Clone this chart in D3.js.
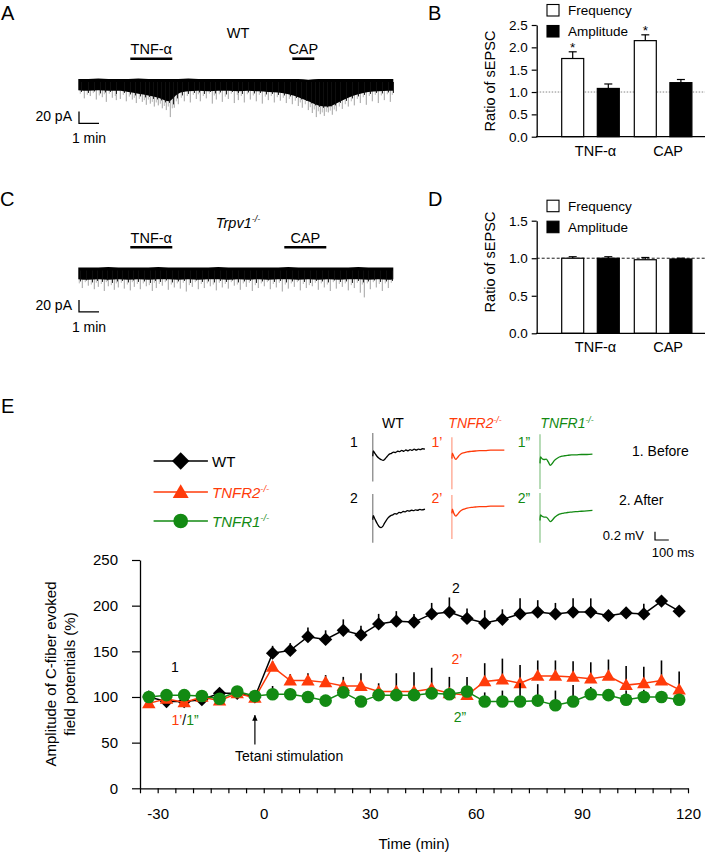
<!DOCTYPE html>
<html><head><meta charset="utf-8">
<script src="https://cdn.jsdelivr.net/npm/d3@7"></script>
<style>
body{margin:0;background:#fff}
svg{display:block}
text{font-family:"Liberation Sans",Arial,sans-serif;fill:#000}
</style>
</head><body>
<svg id="c" width="705" height="853"></svg>
<script>
// ================= DATA =================
// Panels B / D : sEPSC ratios
const barCategories = ["TNF-α", "CAP"];
const barSeries = ["Frequency", "Amplitude"];
const wtFrequency = [1.75, 2.15];
const wtFrequencyErr = [0.15, 0.13];
const wtAmplitude = [1.08, 1.21];
const wtAmplitudeErr = [0.10, 0.07];
const trpvFrequency = [1.00, 0.98];
const trpvFrequencyErr = [0.02, 0.03];
const trpvAmplitude = [1.00, 0.99];
const trpvAmplitudeErr = [0.02, 0.01];
const bTicks = [0, 0.5, 1.0, 1.5, 2.0, 2.5];
const dTicks = [0, 0.5, 1.0, 1.5];

// Panels A / C : current traces (time in min, current in pA), envelope + events
const traceTimes = [0,0.5,1,1.5,2,2.5,3,3.5,4,4.5,5,5.5,6,6.5,7,7.5,8,8.5,9,9.5,10,10.5,11,11.5,12,12.5,13,13.5,14,14.5,15,15.5,15.75];
const wtTraceTop = [5,5,6,5,5,5,6,5,5,5,5,6,5,5,5,5,5,5,5,5,5,5,5,4,5,5,5,5,5,5,5,5,5];
const wtTraceBottom = [-14,-15,-14,-15,-15,-17,-20,-23,-27,-33,-20,-16,-15,-16,-15,-15,-16,-15,-16,-17,-18,-21,-26,-33,-40,-42,-35,-27,-21,-17,-16,-15,-15];
const wtEvents = [[0.3,-28],[0.6,-24],[0.9,-30],[1.2,-26],[1.4,-34],[1.7,-27],[1.9,-31],[2.1,-29],[2.4,-33],[2.7,-30],[2.9,-36],[3.2,-34],[3.4,-39],[3.6,-37],[3.8,-42],[4.0,-40],[4.2,-45],[4.4,-48],[4.6,-60],[4.8,-44],[5.0,-38],[5.3,-33],[5.6,-35],[5.9,-29],[6.1,-33],[6.4,-28],[6.7,-37],[6.9,-30],[7.2,-34],[7.5,-29],[7.8,-36],[8.0,-31],[8.3,-35],[8.6,-30],[8.9,-33],[9.2,-37],[9.5,-31],[9.8,-35],[10.1,-32],[10.4,-36],[10.7,-38],[11.0,-41],[11.2,-44],[11.5,-48],[11.7,-53],[11.9,-60],[12.1,-55],[12.3,-58],[12.5,-52],[12.7,-56],[12.9,-50],[13.2,-46],[13.5,-42],[13.8,-40],[14.1,-36],[14.4,-39],[14.7,-33],[15.0,-36],[15.3,-31],[15.6,-34]];
const wtSmallEvents = [[0.1,-20],[0.45,-22],[0.75,-19],[1.05,-23],[1.3,-21],[1.55,-20],[1.85,-24],[2.25,-22],[2.55,-25],[2.8,-27],[3.05,-29],[3.3,-31],[3.5,-30],[3.7,-34],[3.9,-35],[4.1,-37],[4.3,-41],[4.5,-42],[4.7,-45],[4.9,-33],[5.15,-27],[5.45,-24],[5.75,-22],[6.0,-21],[6.25,-24],[6.55,-20],[6.8,-23],[7.05,-21],[7.35,-25],[7.65,-20],[7.95,-22],[8.15,-24],[8.45,-21],[8.75,-23],[9.05,-22],[9.35,-25],[9.65,-24],[9.95,-26],[10.25,-27],[10.55,-29],[10.85,-32],[11.1,-35],[11.35,-38],[11.6,-43],[11.8,-47],[12.0,-50],[12.2,-52],[12.4,-51],[12.6,-49],[12.8,-47],[13.05,-42],[13.35,-38],[13.65,-33],[13.95,-29],[14.25,-26],[14.55,-24],[14.85,-22],[15.15,-23],[15.45,-21],[15.7,-22]];
const koTraceTop = [5,5,5,6,5,5,5,5,6,5,5,5,5,5,6,5,5,5,5,5,5,6,5,5,5,5,5,5,6,5,5,5,5];
const koTraceBottom = [-15,-16,-15,-16,-15,-16,-15,-16,-15,-15,-16,-15,-16,-15,-15,-16,-15,-16,-15,-16,-15,-15,-16,-15,-16,-15,-16,-15,-15,-16,-15,-16,-15];
const koEvents = [[0.2,-30],[0.5,-26],[0.8,-32],[1.0,-28],[1.3,-35],[1.5,-27],[1.8,-33],[2.0,-29],[2.3,-31],[2.6,-34],[2.8,-28],[3.1,-32],[3.4,-27],[3.7,-35],[3.9,-30],[4.2,-26],[4.5,-33],[4.8,-29],[5.1,-31],[5.4,-36],[5.7,-28],[6.0,-32],[6.3,-30],[6.6,-27],[6.9,-34],[7.2,-29],[7.5,-31],[7.8,-26],[8.1,-33],[8.4,-28],[8.7,-35],[9.0,-30],[9.3,-27],[9.6,-32],[9.9,-29],[10.2,-36],[10.5,-31],[10.8,-28],[11.1,-34],[11.4,-30],[11.7,-27],[12.0,-33],[12.3,-29],[12.6,-35],[12.9,-31],[13.2,-28],[13.5,-34],[13.8,-30],[14.1,-38],[14.3,-46],[14.6,-32],[14.9,-29],[15.2,-35],[15.5,-30]];
const koSmallEvents = [[0.05,-22],[0.35,-20],[0.65,-24],[0.9,-21],[1.15,-23],[1.4,-20],[1.65,-25],[1.9,-22],[2.15,-21],[2.45,-24],[2.7,-20],[2.95,-23],[3.25,-22],[3.55,-25],[3.8,-21],[4.05,-23],[4.35,-20],[4.65,-24],[4.95,-22],[5.25,-21],[5.55,-25],[5.85,-20],[6.15,-23],[6.45,-22],[6.75,-24],[7.05,-21],[7.35,-23],[7.65,-20],[7.95,-24],[8.25,-22],[8.55,-21],[8.85,-25],[9.15,-22],[9.45,-20],[9.75,-23],[10.05,-21],[10.35,-24],[10.65,-22],[10.95,-20],[11.25,-23],[11.55,-25],[11.85,-21],[12.15,-22],[12.45,-24],[12.75,-20],[13.05,-23],[13.35,-22],[13.65,-25],[13.95,-21],[14.2,-24],[14.45,-22],[14.75,-20],[15.05,-23],[15.35,-22],[15.65,-21]];
// drug application bars (min)
const wtDrugTNF = [2.6, 4.7];
const wtDrugCAP = [10.7, 11.8];
const koDrugTNF = [2.6, 4.7];
const koDrugCAP = [10.3, 12.4];

// Panel E : C-fiber evoked field potentials (%)
const timeMin = [-32.5,-27.5,-22.5,-17.5,-12.5,-7.5,-2.5,2.5,7.5,12.5,17.5,22.5,27.5,32.5,37.5,42.5,47.5,52.5,57.5,62.5,67.5,72.5,77.5,82.5,87.5,92.5,97.5,102.5,107.5,112.5,117.5];
const wtValues = [100,95,95,97,104,104,100,148,151,166,163,173,168,180,183,182,191,193,186,181,185,191,193,191,193,193,189,192,191,205,194];
const wtErr = [2,2,2,2,2,2,2,8,8,10,10,12,10,11,11,9,12,16,11,14,11,17,13,12,15,15,4,4,11,3,3];
const tnfr2Values = [93,98,94,100,96,104,99,133,118,118,116,112,112,106,106,106,109,104,102,117,119,115,123,123,122,120,123,113,115,118,108];
const tnfr2Err = [2,2,2,2,2,2,2,6,7,8,8,10,14,9,20,21,23,18,20,20,23,20,17,17,17,18,18,21,18,22,20];
const tnfr1Values = [100,102,102,101,98,106,101,103,103,100,96,105,95,102,102,102,104,103,106,95,95,95,96,91,95,103,102,97,100,100,97];
const tnfr1Err = [2,2,2,2,2,2,2,9,6,4,3,4,3,3,3,3,3,3,3,10,12,20,18,16,18,8,6,10,8,6,6];
const eYTicks = [0, 50, 100, 150, 200, 250];
const eXTicks = [-35,-30,-25,-20,-15,-10,-5,0,5,10,15,20,25,30,35,40,45,50,55,60,65,70,75,80,85,90,95,100,105,110,115,120];
const eXLabels = [-30, 0, 30, 60, 90, 120];

// Panel E insets: example field potentials (ms, mV); artifact [top, bottom]
const wt1Trace = [[3,-0.02],[15,-0.08],[30,-0.15],[45,-0.2],[60,-0.23],[75,-0.25],[90,-0.21],[105,-0.15],[120,-0.1],[135,-0.08],[150,-0.05],[165,-0.06],[180,-0.03],[195,-0.04],[210,-0.01],[225,-0.03],[240,0],[255,-0.02],[270,0.01],[285,-0.01],[300,0.02],[315,0],[330,0.02],[345,0.01],[360,0.03],[378,0.02]];
const wt1Artifact = [0.41, -0.76];
const wt2Trace = [[3,-0.04],[15,-0.12],[30,-0.22],[45,-0.3],[60,-0.33],[72,-0.3],[85,-0.22],[100,-0.14],[115,-0.08],[130,-0.04],[145,-0.02],[160,0.01],[175,0],[190,0.04],[205,0.03],[220,0.06],[235,0.05],[250,0.08],[265,0.07],[280,0.09],[295,0.08],[310,0.1],[325,0.09],[340,0.11],[355,0.1],[378,0.12]];
const wt2Artifact = [0.48, -0.69];
const r1Trace = [[3,-0.05],[15,-0.14],[28,-0.2],[40,-0.16],[55,-0.1],[70,-0.06],[90,-0.04],[110,-0.02],[140,-0.01],[170,0],[200,0.01],[240,0.01],[280,0.02],[320,0.02],[380,0.02]];
const r1Artifact = [0.33, -0.92];
const r2Trace = [[3,-0.05],[15,-0.16],[28,-0.22],[40,-0.18],[55,-0.12],[70,-0.08],[90,-0.05],[110,-0.03],[140,-0.01],[170,0],[200,0.01],[240,0.01],[280,0.02],[320,0.02],[380,0.02]];
const r2Artifact = [0.29, -0.77];
const g1Trace = [[3,0],[15,-0.04],[30,-0.06],[45,-0.05],[60,-0.12],[75,-0.2],[90,-0.15],[105,-0.08],[120,-0.04],[140,0],[160,0.02],[180,0.03],[200,0.04],[230,0.05],[260,0.05],[300,0.06],[340,0.06],[380,0.07]];
const g1Artifact = [0.55, -0.77];
const g2Trace = [[3,0],[15,-0.03],[30,-0.05],[45,-0.05],[60,-0.1],[75,-0.16],[90,-0.12],[105,-0.06],[120,-0.02],[140,0.02],[160,0.04],[180,0.05],[200,0.06],[230,0.07],[260,0.08],[300,0.09],[340,0.1],[380,0.11]];
const g2Artifact = [0.53, -0.67];

// ================= DRAW =================
const svg = d3.select("#c");
const RED = "#ff3b0a", GREEN = "#138a13";
// diamond = square turned by 45 degrees
const diamondSymbol = { draw(ctx, size) { const r = Math.sqrt(size / 2); ctx.moveTo(0, -r); ctx.lineTo(r, 0); ctx.lineTo(0, r); ctx.lineTo(-r, 0); ctx.closePath(); } };

function label(x, y, txt, opts = {}) {
  const t = svg.append("text").attr("x", x).attr("y", y)
    .attr("font-size", opts.size || 14)
    .attr("text-anchor", opts.anchor || "start")
    .style("fill", opts.color || "#000");
  if (opts.italic) t.attr("font-style", "italic");
  if (opts.sup) {
    t.append("tspan").text(txt);
    t.append("tspan").text(opts.sup).attr("font-size", (opts.size || 14) * 0.62).attr("dy", -(opts.size || 14) * 0.38);
  } else t.text(txt);
  return t;
}

// ---------- Panels A / C ----------
function tracePanel(y0, top, bottom, events, smallEvents, tnf, cap, titleText, titleItalic, supText, titleY) {
  const x = d3.scaleLinear().domain([0, 15.75]).range([78.3, 393.3]);
  const y = d3.scaleLinear().domain([0, 20]).range([y0, y0 - 11.7]);
  const g = svg.append("g");
  g.selectAll("line.ev").data(events).join("line")
    .attr("x1", d => x(d[0])).attr("x2", d => x(d[0]))
    .attr("y1", y(0)).attr("y2", d => y(d[1]))
    .attr("stroke", "#8a8a8a").attr("stroke-width", 0.8);
  g.selectAll("line.ev3").data(smallEvents).join("line")
    .attr("x1", d => x(d[0])).attr("x2", d => x(d[0]))
    .attr("y1", y(0)).attr("y2", d => y(d[1]))
    .attr("stroke", "#9a9a9a").attr("stroke-width", 0.7);
  const area = d3.area().x((d, i) => x(traceTimes[i])).y0((d, i) => y(bottom[i])).y1((d, i) => y(top[i])).curve(d3.curveMonotoneX);
  g.append("path").datum(top).attr("d", area).attr("fill", "#000");
  g.selectAll("line.ev2").data(smallEvents).join("line")
    .attr("x1", d => x(d[0]) + 1.2).attr("x2", d => x(d[0]) + 1.2)
    .attr("y1", y(0)).attr("y2", d => y(d[1] * 0.85))
    .attr("stroke", "#111").attr("stroke-width", 0.9);
  [[tnf, "TNF-α"], [cap, "CAP"]].forEach(([r, txt]) => {
    g.append("line").attr("x1", x(r[0])).attr("x2", x(r[1]))
      .attr("y1", y0 - 11.3 - 12).attr("y2", y0 - 11.3 - 12)
      .attr("stroke", "#000").attr("stroke-width", 2.6);
    label((x(r[0]) + x(r[1])) / 2, y0 - 11.3 - 16.5, txt, {anchor: "middle", size: 14.5});
  });
  label(238, titleY, titleText, {anchor: "middle", size: 14.5, italic: titleItalic, sup: supText});
  const sbY = y0 + 41.3;
  g.append("path").attr("d", `M${x(0) + 0.7},${sbY - (y(0) - y(20))} V${sbY} H${x(1) + 0.7}`)
    .attr("fill", "none").attr("stroke", "#000").attr("stroke-width", 1.3);
  label(72, sbY - 2, "20 pA", {anchor: "end", size: 14});
  label(89, sbY + 20, "1 min", {anchor: "middle", size: 14});
}
tracePanel(82, wtTraceTop, wtTraceBottom, wtEvents, wtSmallEvents, wtDrugTNF, wtDrugCAP, "WT", false, null, 38);
tracePanel(270.5, koTraceTop, koTraceBottom, koEvents, koSmallEvents, koDrugTNF, koDrugCAP, "Trpv1", true, "-/-", 227.5);

label(1, 19.5, "A", {size: 20});
label(0, 206, "C", {size: 20});
label(428, 19.5, "B", {size: 20});
label(428, 206, "D", {size: 20});
label(1, 413, "E", {size: 20});

// ---------- Panels B / D ----------
function barPanel(yTop, yBottom, dom, ticks, freq, freqErr, amp, ampErr, dashed, stars, titleY) {
  const y = d3.scaleLinear().domain(dom).range([yBottom, yTop]);
  const x0 = d3.scaleBand().domain(barCategories).range([561.7, 691.9]).paddingInner(0.2066);
  const x1 = d3.scaleBand().domain(barSeries).range([0, x0.bandwidth()]).paddingInner(0.382);
  const g = svg.append("g");
  g.append("line").attr("x1", 536.7).attr("x2", 705).attr("y1", y(1)).attr("y2", y(1))
    .attr("stroke", dashed ? "#000" : "#777").attr("stroke-width", 0.9)
    .attr("stroke-dasharray", dashed ? "3,2" : "1.5,1.5");
  const rows = [];
  barCategories.forEach((c, i) => {
    rows.push({c, s: "Frequency", v: freq[i], e: freqErr[i], star: stars});
    rows.push({c, s: "Amplitude", v: amp[i], e: ampErr[i], star: false});
  });
  rows.forEach(r => {
    const bx = x0(r.c) + x1(r.s), bw = x1.bandwidth(), cx = bx + bw / 2;
    g.append("line").attr("x1", cx).attr("x2", cx).attr("y1", y(r.v)).attr("y2", y(r.v + r.e)).attr("stroke", "#000").attr("stroke-width", 1.2);
    g.append("line").attr("x1", cx - 4).attr("x2", cx + 4).attr("y1", y(r.v + r.e)).attr("y2", y(r.v + r.e)).attr("stroke", "#000").attr("stroke-width", 1.2);
    g.append("rect").attr("x", bx).attr("y", y(r.v)).attr("width", bw).attr("height", y(0) - y(r.v))
      .attr("fill", r.s === "Frequency" ? "#fff" : "#000").attr("stroke", "#000").attr("stroke-width", 1.2);
    if (r.star) label(cx, y(r.v + r.e) + 0.5, "*", {anchor: "middle", size: 13.5});
  });
  const ax = g.append("g").attr("transform", "translate(536.7,0)")
    .call(d3.axisLeft(y).tickValues(ticks).tickFormat(d3.format(".1f")).tickSize(5).tickPadding(4).tickSizeOuter(0));
  ax.select(".domain").attr("stroke-width", 1.3);
  ax.selectAll(".tick line").attr("stroke-width", 1.2);
  ax.selectAll("text").attr("font-size", 13.5).attr("font-family", "Liberation Sans, Arial, sans-serif");
  g.append("line").attr("x1", 536).attr("x2", 705).attr("y1", y(0)).attr("y2", y(0)).attr("stroke", "#000").attr("stroke-width", 1.3);
  barCategories.forEach((c, i) => label(x0(c) + x0.bandwidth() / 2 + 5, y(0) + 19, c, {anchor: "middle", size: 14.5}));
  svg.append("text").attr("transform", `translate(495,${titleY}) rotate(-90)`)
    .attr("text-anchor", "middle").attr("font-size", 14.5).text("Ratio of sEPSC");
  barSeries.forEach((s, i) => {
    const ly = yTop - 20.5 + i * 21;
    svg.append("rect").attr("x", 547).attr("y", ly).attr("width", 12).attr("height", 11.5)
      .attr("fill", s === "Frequency" ? "#fff" : "#000").attr("stroke", "#000").attr("stroke-width", 1.1);
    label(568, ly + 10.5, s, {size: 13.5});
  });
}
barPanel(25, 136.7, [0, 2.5], bTicks, wtFrequency, wtFrequencyErr, wtAmplitude, wtAmplitudeErr, false, true, 81);
barPanel(220.7, 333.3, [0, 1.5], dTicks, trpvFrequency, trpvFrequencyErr, trpvAmplitude, trpvAmplitudeErr, true, false, 262);

// ---------- Panel E main plot ----------
const ex = d3.scaleLinear().domain([-35, 120]).range([140, 688]);
const ey = d3.scaleLinear().domain([0, 250]).range([788.3, 560]);
const eg = svg.append("g");
const yAx = eg.append("g").attr("transform", "translate(140,0)")
  .call(d3.axisLeft(ey).tickValues(eYTicks).tickSize(8).tickPadding(14).tickSizeOuter(0));
const xAx = eg.append("g").attr("transform", "translate(0,788.3)")
  .call(d3.axisBottom(ex).tickValues(eXTicks).tickFormat(d => eXLabels.includes(d) ? d : "").tickSize(5).tickPadding(15).tickSizeOuter(0));
[yAx, xAx].forEach(a => {
  a.select(".domain").attr("stroke-width", 1.3);
  a.selectAll(".tick line").attr("stroke-width", 1.2);
  a.selectAll("text").attr("font-size", 15).attr("font-family", "Liberation Sans, Arial, sans-serif");
});
svg.append("text").attr("transform", "translate(56,674) rotate(-90)").attr("text-anchor", "middle").attr("font-size", 15).text("Amplitude of C-fiber evoked");
svg.append("text").attr("transform", "translate(75,674) rotate(-90)").attr("text-anchor", "middle").attr("font-size", 15).text("field potentials (%)");
label(414, 849, "Time (min)", {anchor: "middle", size: 15});

const seriesE = [
  {name: "WT", vals: wtValues, err: wtErr, color: "#000", shape: diamondSymbol, size: 88},
  {name: "TNFR2", vals: tnfr2Values, err: tnfr2Err, color: RED, shape: d3.symbolTriangle, size: 78},
  {name: "TNFR1", vals: tnfr1Values, err: tnfr1Err, color: GREEN, shape: d3.symbolCircle, size: 125}
];
seriesE.forEach(s => {
  const pts = timeMin.map((t, i) => ({t, v: s.vals[i], e: s.err[i]}));
  eg.selectAll(null).data(pts).join("line")
    .attr("x1", d => ex(d.t)).attr("x2", d => ex(d.t))
    .attr("y1", d => ey(d.v)).attr("y2", d => ey(d.v + d.e))
    .attr("stroke", "#000").attr("stroke-width", 1.6);
  eg.append("path").datum(pts)
    .attr("d", d3.line().x(d => ex(d.t)).y(d => ey(d.v)))
    .attr("fill", "none").attr("stroke", s.color).attr("stroke-width", 1.5);
  eg.selectAll(null).data(pts).join("path")
    .attr("d", d3.symbol().type(s.shape).size(s.size))
    .attr("transform", d => `translate(${ex(d.t)},${ey(d.v) + (s.shape === d3.symbolTriangle ? 1 : 0)})`)
    .attr("fill", s.color);
});

label(175, 672, "1", {anchor: "middle", size: 14});
const a1 = svg.append("text").attr("x", 185).attr("y", 725).attr("text-anchor", "middle").attr("font-size", 14);
a1.append("tspan").text("1’").style("fill", RED);
a1.append("tspan").text("/").style("fill", "#000");
a1.append("tspan").text("1”").style("fill", GREEN);
label(456, 593, "2", {anchor: "middle", size: 14});
label(457, 664, "2’", {anchor: "middle", size: 14, color: RED});
label(460, 722, "2”", {anchor: "middle", size: 14, color: GREEN});
// tetanus arrow (points up)
svg.append("defs").append("marker").attr("id", "ah").attr("viewBox", "0 0 10 10").attr("refX", 9).attr("refY", 5)
  .attr("markerWidth", 6).attr("markerHeight", 6).attr("markerUnits", "userSpaceOnUse").attr("orient", "auto")
  .append("path").attr("d", "M0,0.5 L10,5 L0,9.5 Z").attr("fill", "#000");
svg.append("line").attr("x1", ex(-2.5)).attr("x2", ex(-2.5)).attr("y1", ey(48)).attr("y2", ey(80))
  .attr("stroke", "#000").attr("stroke-width", 1.2).attr("marker-end", "url(#ah)");
label(235, 761, "Tetani stimulation", {size: 14});

// ---------- Panel E legend ----------
const legendRows = [
  {txt: "WT", sup: null, color: "#000", shape: diamondSymbol, size: 150, y: 461},
  {txt: "TNFR2", sup: "-/-", color: RED, shape: d3.symbolTriangle, size: 110, y: 492},
  {txt: "TNFR1", sup: "-/-", color: GREEN, shape: d3.symbolCircle, size: 170, y: 521}
];
legendRows.forEach(r => {
  svg.append("line").attr("x1", 153.6).attr("x2", 207.9).attr("y1", r.y).attr("y2", r.y).attr("stroke", r.color).attr("stroke-width", 1.5);
  svg.append("path").attr("d", d3.symbol().type(r.shape).size(r.size)()).attr("transform", `translate(180.7,${r.y + (r.shape === d3.symbolTriangle ? 1.5 : 0)})`).attr("fill", r.color);
  label(212, r.y + 5.5, r.txt, {size: 15, italic: !!r.sup, color: r.color, sup: r.sup});
});

// ---------- Panel E insets ----------
const insetHead = [
  {txt: "WT", x: 393, color: "#000", sup: null},
  {txt: "TNFR2", x: 475, color: RED, sup: "-/-"},
  {txt: "TNFR1", x: 567, color: GREEN, sup: "-/-"}
];
insetHead.forEach(h => label(h.x, 428, h.txt, {anchor: "middle", size: 14, italic: !!h.sup, color: h.color, sup: h.sup}));
function drawTrace(x0, y0, pts, art, color) {
  const tx = d3.scaleLinear().domain([0, 100]).range([x0, x0 + 13.8]);
  const ty = d3.scaleLinear().domain([0, 0.2]).range([y0, y0 - 8.3]);
  svg.append("line").attr("x1", tx(0)).attr("x2", tx(0)).attr("y1", ty(art[0])).attr("y2", ty(art[1]))
    .attr("stroke", color).attr("stroke-opacity", 0.55).attr("stroke-width", 1.1);
  svg.append("path").datum([[0, art[1] * 0.2], ...pts]).attr("d", d3.line().x(d => tx(d[0])).y(d => ty(d[1])).curve(d3.curveMonotoneX))
    .attr("fill", "none").attr("stroke", color).attr("stroke-width", 1.3);
}
drawTrace(372.8, 450, wt1Trace, wt1Artifact, "#000");
drawTrace(372.8, 514, wt2Trace, wt2Artifact, "#000");
drawTrace(451.9, 451, r1Trace, r1Artifact, RED);
drawTrace(451.9, 507, r2Trace, r2Artifact, RED);
drawTrace(540, 457, g1Trace, g1Artifact, GREEN);
drawTrace(540, 515, g2Trace, g2Artifact, GREEN);
label(354, 447, "1", {anchor: "middle", size: 14});
label(354, 503, "2", {anchor: "middle", size: 14});
label(437, 447, "1’", {anchor: "middle", size: 14, color: RED});
label(437, 503, "2’", {anchor: "middle", size: 14, color: RED});
label(524, 447, "1”", {anchor: "middle", size: 14, color: GREEN});
label(524, 503, "2”", {anchor: "middle", size: 14, color: GREEN});
label(632, 456, "1. Before", {size: 14});
label(619, 505, "2. After", {size: 14});
svg.append("path").attr("d", `M655,531.7 V540 H668.8`).attr("fill", "none").attr("stroke", "#000").attr("stroke-width", 1.2);
label(644, 540, "0.2 mV", {anchor: "end", size: 13});
label(673, 557, "100 ms", {anchor: "middle", size: 13});
</script>
</body></html>
